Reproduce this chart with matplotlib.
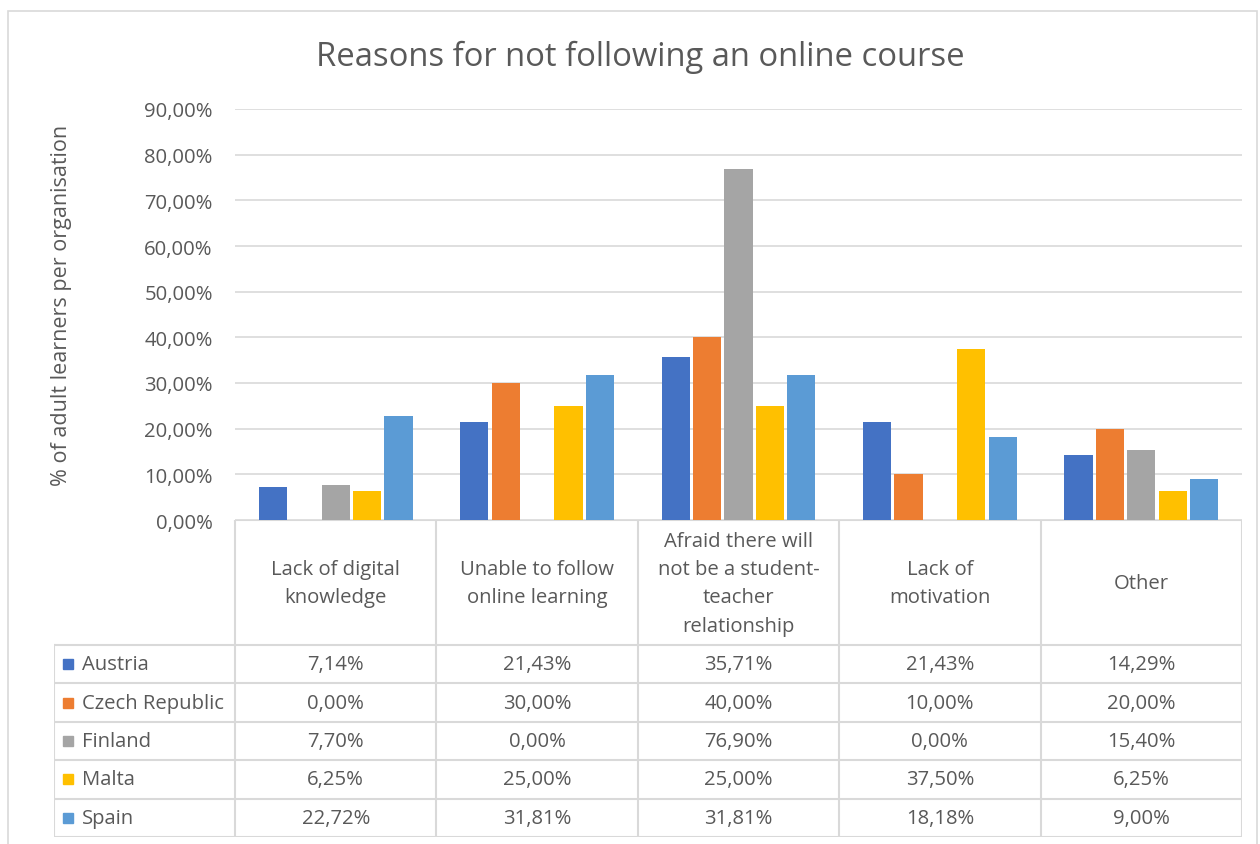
import matplotlib
matplotlib.use("Agg")
import matplotlib.pyplot as plt
import numpy as np

# data
categories = ["Lack of digital\nknowledge", "Unable to follow\nonline learning",
              "Afraid there will\nnot be a student-\nteacher\nrelationship",
              "Lack of\nmotivation", "Other"]
countries = ["Austria", "Czech Republic", "Finland", "Malta", "Spain"]
austria = [7.14, 21.43, 35.71, 21.43, 14.29]
czech = [0.00, 30.00, 40.00, 10.00, 20.00]
finland = [7.70, 0.00, 76.90, 0.00, 15.40]
malta = [6.25, 25.00, 25.00, 37.50, 6.25]
spain = [22.72, 31.81, 31.81, 18.18, 9.00]
series = [austria, czech, finland, malta, spain]
colors = ["#4472C4", "#ED7D31", "#A5A5A5", "#FFC000", "#5B9BD5"]
yticks = np.arange(0, 100, 10)

plt.rcParams['font.family'] = ['Open Sans', 'DejaVu Sans']
txt = "#595959"
grid = "#D9D9D9"
fs = 14.6

W, H = 1260, 845
fig = plt.figure(figsize=(W / 100, H / 100), dpi=100)

def box(x0, y0, x1, y1):
    # pixel box -> figure fraction rect
    return [x0 / W, 1 - y1 / H, (x1 - x0) / W, (y1 - y0) / H]

# outer chart frame
fig.patches.append(plt.Rectangle((8 / W, -0.05), 1249 / W, 1 - 12 / H + 0.05,
                                 transform=fig.transFigure, fill=False,
                                 edgecolor=grid, lw=1.2))

ax = fig.add_axes(box(235, 110, 1242, 521))
x = np.arange(len(categories))
bw = 0.14
pitch = 0.156
for i, (vals, c) in enumerate(zip(series, colors)):
    ax.bar(x + (i - 2) * pitch, np.array(vals) / 100, width=bw, color=c, zorder=3)
ax.set_xlim(-0.5, len(categories) - 0.5)
ax.set_ylim(0, 0.9)
ax.set_yticks(yticks / 100)
ax.set_yticklabels([f"{v:.2f}%".replace(".", ",") for v in yticks],
                   fontsize=fs, color=txt)
ax.tick_params(axis='y', length=0, pad=16)
ax.set_xticks([])
ax.grid(axis='y', color=grid, lw=1.2, zorder=0)
for s in ax.spines.values():
    s.set_visible(False)
fig.text(62 / W, 1 - 305 / H, "% of adult learners per organisation",
         rotation=90, ha='center', va='center', fontsize=15.5, color=txt)
fig.text(640 / W, 1 - 57 / H, "Reasons for not following an online course",
         ha='center', va='center', fontsize=23.6, color=txt)

# data table drawn beneath the axis
tab = fig.add_axes(box(54, 521, 1242, 838))
tab.set_axis_off()
ncol = len(categories)
nrow = len(countries)
# columns: legend column then one per category; units = category widths
legw = (235 - 54) / ((1242 - 235) / ncol)
tab.set_xlim(-legw, ncol)
hdr = (646 - 521) / ((838 - 646) / nrow)
tab.set_ylim(nrow, -hdr)
lc = dict(color=grid, lw=1.5)
for j in range(ncol + 1):
    tab.plot([j, j], [-hdr, nrow], **lc)
tab.plot([-legw, -legw], [0, nrow], **lc)
tab.plot([0, ncol], [-hdr, -hdr], **lc)
for r in range(nrow + 1):
    tab.plot([-legw, ncol], [r, r], **lc)
for j, cat in enumerate(categories):
    tab.text(j + 0.5, -hdr / 2 + 0.02, cat, ha='center', va='center', fontsize=fs,
             color=txt, linespacing=1.55)
for r, (name, vals, c) in enumerate(zip(countries, series, colors)):
    tab.plot(-legw + 0.07, r + 0.5, marker='s', ms=6.5, color=c, mec=c)
    tab.text(-legw + 0.14, r + 0.5, name, ha='left', va='center', fontsize=fs,
             color=txt)
    for j, v in enumerate(vals):
        tab.text(j + 0.5, r + 0.5, f"{v:.2f}%".replace(".", ","), ha='center',
                 va='center', fontsize=fs, color=txt)

fig.savefig("out.png", dpi=100)
